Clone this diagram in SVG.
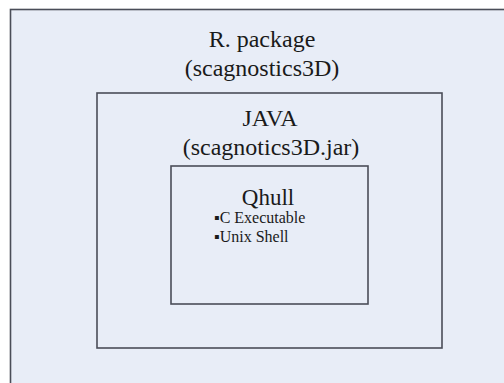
<svg xmlns="http://www.w3.org/2000/svg" width="504" height="383" viewBox="0 0 504 383">
<style>
.box{fill:#e8edf7;stroke:#4a4d58;stroke-width:1.6}
text{fill:#1a1a1a;font-family:'Liberation Serif','Times New Roman',serif}
.t{text-anchor:middle;font-size:24px}
.b{font-size:16px}
</style>
<rect width="504" height="383" fill="#ffffff"/>
<g id="rpackage">
<rect class="box" x="10.5" y="9.5" width="520" height="400"/>
<text class="t" x="262" y="47">R. package</text>
<text class="t" x="262" y="76">(scagnostics3D)</text>
</g>
<g id="java">
<rect class="box" x="97" y="93" width="345" height="255"/>
<text class="t" x="270" y="126">JAVA</text>
<text class="t" x="271" y="155">(scagnotics3D.jar)</text>
</g>
<g id="qhull">
<rect class="box" x="171" y="166" width="197" height="138"/>
<text class="t" x="268" y="205" style="font-size:23px">Qhull</text>
<text class="b" x="214" y="223">▪C Executable</text>
<text class="b" x="214" y="242">▪Unix Shell</text>
</g>
<g id="connectors"/>
</svg>
